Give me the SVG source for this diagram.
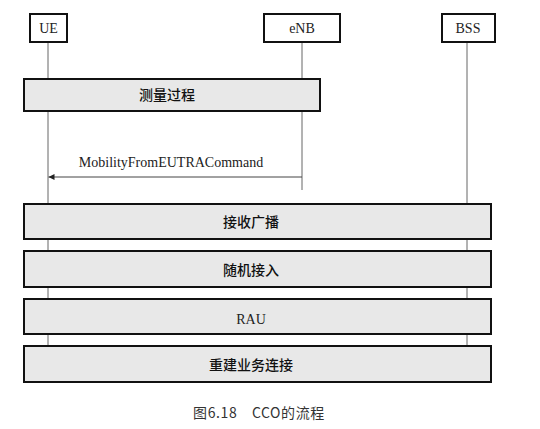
<svg xmlns="http://www.w3.org/2000/svg" width="540" height="429" viewBox="0 0 540 429">
<defs>
<style>
.hdr{fill:#fff;stroke:#111;stroke-width:2}
.blk{fill:#e8e8e8;stroke:#111;stroke-width:2}
.life{stroke:#666;stroke-width:1;fill:none}
.msg{stroke:#444;stroke-width:1;fill:none}
.lat{font-size:14px;fill:#222;text-anchor:middle}
.cjk{font-family:"Noto Sans CJK SC",sans-serif;font-size:14px;font-weight:500;fill:#111;text-anchor:middle}
.cap{font-family:"Noto Sans CJK SC",sans-serif;font-size:14px;fill:#333;text-anchor:middle;letter-spacing:0.6px}
</style>
<marker id="ah" viewBox="0 0 10 10" refX="10" refY="5" markerWidth="8" markerHeight="6" markerUnits="userSpaceOnUse" orient="auto">
<path d="M0,0 L10,5 L0,10 z" fill="#222"/>
</marker>
</defs>
<rect width="540" height="429" fill="#fff"/>
<g id="lifelines">
<line class="life" x1="48" y1="42" x2="48" y2="346"/>
<line class="life" x1="302" y1="42" x2="302" y2="190"/>
<line class="life" x1="467" y1="42" x2="467" y2="346"/>
</g>
<g font-family="'Liberation Serif', 'Times New Roman', serif">
<g id="connectors">
<line class="msg" x1="302" y1="177" x2="48.5" y2="177" marker-end="url(#ah)"/>
<text class="lat" x="171" y="167">MobilityFromEUTRACommand</text>
</g>
<g id="UE"><rect class="hdr" x="30" y="14" width="37" height="28"/><text class="lat" x="48.5" y="33">UE</text></g>
<g id="eNB"><rect class="hdr" x="264" y="14" width="76" height="28"/><text class="lat" x="302" y="33">eNB</text></g>
<g id="BSS"><rect class="hdr" x="442" y="14" width="53" height="28"/><text class="lat" x="468" y="33">BSS</text></g>
<g id="measure"><rect class="blk" x="24" y="79" width="296" height="32"/><text class="cjk" x="167" y="100">测量过程</text></g>
<g id="broadcast"><rect class="blk" x="24" y="204" width="467" height="35"/><text class="cjk" x="251" y="227">接收广播</text></g>
<g id="random"><rect class="blk" x="24" y="251" width="467" height="36"/><text class="cjk" x="251" y="275">随机接入</text></g>
<g id="rau"><rect class="blk" x="24" y="299" width="467" height="35"/><text class="lat" x="251" y="324">RAU</text></g>
<g id="rebuild"><rect class="blk" x="24" y="346" width="467" height="36"/><text class="cjk" x="251" y="370">重建业务连接</text></g>
</g>
<text class="cap" x="259" y="418" xml:space="preserve">图6.18　CCO的流程</text>
</svg>
